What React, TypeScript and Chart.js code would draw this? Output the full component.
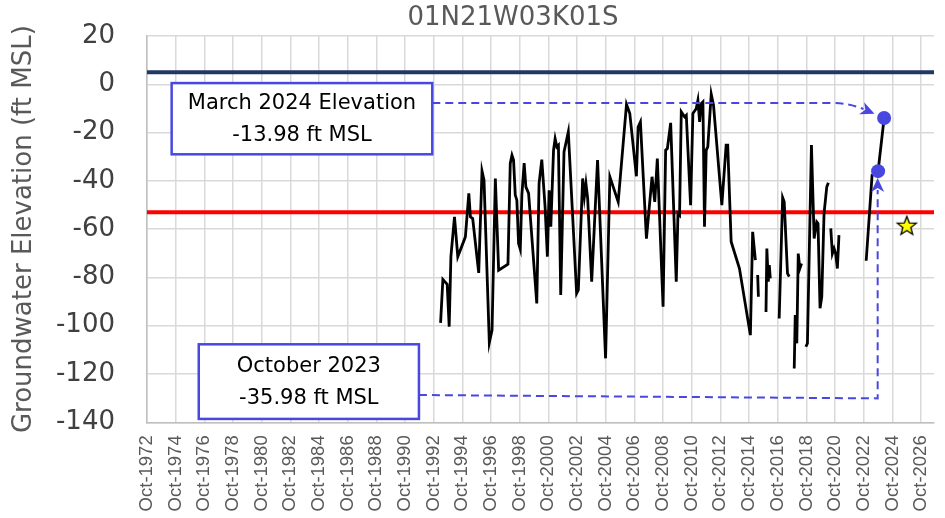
import React, { useEffect, useRef } from 'react';
import { Chart, registerables } from 'chart.js';

Chart.register(...registerables);

// ---------- text ----------
const TITLE = '01N21W03K01S';
const Y_TITLE = 'Groundwater Elevation (ft MSL)';
const X_TICK_LABELS = [
  'Oct-1972', 'Oct-1974', 'Oct-1976', 'Oct-1978', 'Oct-1980', 'Oct-1982', 'Oct-1984',
  'Oct-1986', 'Oct-1988', 'Oct-1990', 'Oct-1992', 'Oct-1994', 'Oct-1996', 'Oct-1998',
  'Oct-2000', 'Oct-2002', 'Oct-2004', 'Oct-2006', 'Oct-2008', 'Oct-2010', 'Oct-2012',
  'Oct-2014', 'Oct-2016', 'Oct-2018', 'Oct-2020', 'Oct-2022', 'Oct-2024', 'Oct-2026',
];
const NOTE_TEXT_MARCH = ['March 2024 Elevation', '-13.98 ft MSL'];
const NOTE_TEXT_OCT = ['October 2023', '-35.98 ft MSL'];

// ---------- axes ----------
const X_MIN = 1972.75;
const X_MAX = 2027.65;
const Y_MIN = -140;
const Y_MAX = 20;
const Y_STEP = 20;

// ---------- data (decimal years, ft MSL) ----------
const MEAS_DATES = [
  1993.23, 1993.39, 1993.69, 1993.83, 1993.95, 1994.20, 1994.43, 1994.96, 1995.20, 1995.31,
  1995.47, 1995.89, 1996.12, 1996.26, 1996.63, 1996.82, 1997.05, 1997.28, 1997.93, 1998.09,
  1998.21, 1998.32, 1998.44, 1998.55, 1998.67, 1998.79, 1998.90, 1999.06, 1999.18, 1999.37,
  1999.94, 2000.10, 2000.29, 2000.52, 2000.68, 2000.80, 2000.92, 2001.11, 2001.22, 2001.34,
  2001.45, 2001.61, 2001.84, 2002.14, 2002.72, 2002.84, 2003.14, 2003.26, 2003.37, 2003.49,
  2003.77, 2004.18, 2004.74, 2005.04, 2005.62, 2006.20, 2006.43, 2006.89, 2007.01, 2007.17,
  2007.59, 2007.98, 2008.17, 2008.35, 2008.75, 2008.93, 2009.05, 2009.28, 2009.67, 2009.79,
  2009.90, 2010.02, 2010.25, 2010.37, 2010.67, 2010.83, 2011.06, 2011.18, 2011.30, 2011.41,
  2011.53, 2011.64, 2011.76, 2011.87, 2012.11, 2012.27, 2012.85, 2013.15, 2013.26, 2013.50,
  2014.08, 2014.84, 2015.00, 2015.19, 2015.27, 2015.35, 2015.40, 2015.66, 2015.93, 2015.99,
  2016.09, 2016.16, 2016.23, 2016.54, 2016.85, 2017.09, 2017.20, 2017.43, 2017.55, 2017.72,
  2017.90, 2017.97, 2018.08, 2018.18, 2018.29, 2018.41, 2018.56, 2018.71, 2018.82, 2019.10,
  2019.29, 2019.47, 2019.56, 2019.70, 2019.82, 2019.98, 2020.17, 2020.28, 2020.36, 2020.45,
  2020.56, 2020.68, 2020.79, 2020.91, 2021.02, 2022.00, 2022.92, 2023.33, 2023.75, 2024.17,
];
const MEAS_ELEV = [
  -98.8, -80.8, -82.8, -100.4, -71.4, -54.9, -71.4, -63.2, -45.2, -54.9,
  -55.6, -78.1, -35.9, -39.7, -107.0, -101.8, -39.0, -77.0, -74.5, -32.8,
  -29.4, -31.4, -45.9, -48.0, -65.9, -68.3, -45.9, -32.6, -42.5, -45.2,
  -90.8, -41.1, -31.2, -50.8, -71.4, -43.9, -59.0, -27.3, -22.5, -25.9,
  -25.2, -87.3, -28.0, -19.7, -86.6, -85.2, -39.0, -46.6, -41.1, -47.3,
  -81.8, -31.4, -113.5, -38.3, -48.7, -8.3, -12.1, -38.1, -17.7, -15.6,
  -63.9, -38.3, -48.7, -30.8, -92.1, -27.3, -26.6, -16.0, -81.8, -53.5,
  -54.2, -11.4, -13.5, -12.8, -50.1, -12.1, -10.1, -6.6, -15.6, -8.0,
  -7.3, -59.0, -27.3, -25.9, -4.1, -8.7, -50.1, -25.2, -25.2, -65.2,
  -76.3, -103.9, -61.1, -72.8, null, -79.0, -88.0, null, -94.3, -68.0,
  -81.8, -74.9, -80.4, null, -97.0, -46.9, -48.7, -78.3, -79.7, null,
  -117.7, -95.6, -107.3, -70.1, -76.3, -74.2, null, -108.7, -107.3, -25.2,
  -63.9, -57.0, -57.7, -92.8, -88.0, -53.5, -42.5, -40.8, null, -59.7,
  -70.1, -68.0, -70.1, -76.3, -62.5, null, -73.1, -37.7, -35.98, -13.98,
];
const HIGHLIGHT_DATES = [2023.75, 2024.17];
const HIGHLIGHT_ELEV = [-35.98, -13.98];
const STAR_DATES = [2025.75];
const STAR_ELEV = [-58.6];
const REF_UPPER = 5;
const REF_LOWER = -53;

// ---------- styles ----------
const BLUE = '#4848E0';
const GRID = '#d9d9d9';
const AXIS = '#bfbfbf';
const GRAY_TEXT = '#595959';
const FONT = 'DejaVu Sans';

// callout geometry in data space
const NOTES = [
  { lines: NOTE_TEXT_MARCH, x0: 1974.47, x1: 1992.65, yTop: 0.5, yBottom: -29.0 },
  { lines: NOTE_TEXT_OCT, x0: 1976.36, x1: 1991.72, yTop: -107.7, yBottom: -138.6 },
];
const ARROW_MARCH = { start: [1992.65, -7.7], corner: [2020.3, -7.7], ctrl: [2021.7, -7.7], tip: [2023.5, -12.2] };
const ARROW_OCT = { start: [1991.72, -128.7], corner: [2023.72, -130.1], tip: [2023.72, -38.8] };

function makeStar(): HTMLCanvasElement {
  const c = document.createElement('canvas');
  c.width = 24;
  c.height = 24;
  const g = c.getContext('2d')!;
  const cx = 12, cy = 12.5, ro = 10, ri = 4.2;
  g.beginPath();
  for (let i = 0; i < 10; i++) {
    const r = i % 2 === 0 ? ro : ri;
    const a = -Math.PI / 2 + (i * Math.PI) / 5;
    const px = cx + r * Math.cos(a);
    const py = cy + r * Math.sin(a);
    if (i === 0) g.moveTo(px, py); else g.lineTo(px, py);
  }
  g.closePath();
  g.fillStyle = '#FFFF00';
  g.fill();
  g.lineWidth = 1.3;
  g.strokeStyle = '#000000';
  g.stroke();
  return c;
}

const titlePlugin = {
  id: 'customTitle',
  afterDraw(chart: any) {
    const { ctx } = chart;
    ctx.save();
    ctx.font = `26px "${FONT}"`;
    ctx.fillStyle = GRAY_TEXT;
    ctx.textAlign = 'center';
    ctx.textBaseline = 'middle';
    ctx.fillText(TITLE, 513, 18);
    ctx.restore();
  },
};

const notesPlugin = {
  id: 'notes',
  afterDatasetsDraw(chart: any) {
    const { ctx } = chart;
    const xs = chart.scales.x;
    const ys = chart.scales.y;
    const P = (p: number[]) => [xs.getPixelForValue(p[0]), ys.getPixelForValue(p[1])];
    ctx.save();

    const head = (tip: number[], from: number[]) => {
      const dx = tip[0] - from[0];
      const dy = tip[1] - from[1];
      const len = Math.hypot(dx, dy) || 1;
      const ux = dx / len, uy = dy / len;
      const L = 14, W = 6.5;
      const bx = tip[0] - ux * L, by = tip[1] - uy * L;
      const nx = bx + ux * 4, ny = by + uy * 4;
      ctx.setLineDash([]);
      ctx.beginPath();
      ctx.moveTo(tip[0], tip[1]);
      ctx.lineTo(bx - uy * W, by + ux * W);
      ctx.lineTo(nx, ny);
      ctx.lineTo(bx + uy * W, by - ux * W);
      ctx.closePath();
      ctx.fillStyle = BLUE;
      ctx.fill();
    };

    ctx.strokeStyle = BLUE;
    ctx.lineWidth = 2;
    // March arrow
    {
      const s = P(ARROW_MARCH.start), c = P(ARROW_MARCH.corner), k = P(ARROW_MARCH.ctrl), t = P(ARROW_MARCH.tip);
      const dx = t[0] - k[0], dy = t[1] - k[1];
      const len = Math.hypot(dx, dy);
      const b = [t[0] - (dx / len) * 12, t[1] - (dy / len) * 12];
      ctx.setLineDash([8, 5]);
      ctx.beginPath();
      ctx.moveTo(s[0], s[1]);
      ctx.lineTo(c[0], c[1]);
      ctx.quadraticCurveTo(k[0], k[1], b[0], b[1]);
      ctx.stroke();
      head(t, k);
    }
    // October arrow
    {
      const s = P(ARROW_OCT.start), c = P(ARROW_OCT.corner), t = P(ARROW_OCT.tip);
      ctx.setLineDash([8, 5]);
      ctx.beginPath();
      ctx.moveTo(s[0], s[1]);
      ctx.lineTo(c[0], c[1]);
      ctx.lineTo(t[0], t[1] + 12);
      ctx.stroke();
      head(t, c);
    }

    // boxes
    ctx.setLineDash([]);
    for (const n of NOTES) {
      const [l, tp] = P([n.x0, n.yTop]);
      const [r, bt] = P([n.x1, n.yBottom]);
      ctx.fillStyle = '#ffffff';
      ctx.fillRect(l, tp, r - l, bt - tp);
      ctx.lineWidth = 2.5;
      ctx.strokeStyle = BLUE;
      ctx.strokeRect(l, tp, r - l, bt - tp);
      ctx.fillStyle = '#000000';
      ctx.font = `21px "${FONT}"`;
      ctx.textAlign = 'center';
      ctx.textBaseline = 'middle';
      const cx = (l + r) / 2;
      const cy = (tp + bt) / 2;
      ctx.fillText(n.lines[0], cx, cy - 15);
      ctx.fillText(n.lines[1], cx, cy + 17);
    }
    ctx.restore();
  },
};

export default function App() {
  const ref = useRef<HTMLCanvasElement | null>(null);

  useEffect(() => {
    document.body.style.margin = '0';
    document.body.style.overflow = 'hidden';
    const canvas = ref.current!;
    const star = makeStar();
    const tickValues = X_TICK_LABELS.map((s) => parseInt(s.slice(4), 10) + 0.75);

    const measured = MEAS_DATES.map((d, i) => ({ x: d, y: MEAS_ELEV[i] }));
    const highlight = HIGHLIGHT_DATES.map((d, i) => ({ x: d, y: HIGHLIGHT_ELEV[i] }));
    const starPts = STAR_DATES.map((d, i) => ({ x: d, y: STAR_ELEV[i] }));

    const chart = new Chart(canvas, {
      type: 'line',
      data: {
        datasets: [
          {
            data: [{ x: X_MIN, y: REF_UPPER }, { x: X_MAX, y: REF_UPPER }],
            borderColor: '#1F3864', borderWidth: 4, pointRadius: 0, order: 5,
          },
          {
            data: [{ x: X_MIN, y: REF_LOWER }, { x: X_MAX, y: REF_LOWER }],
            borderColor: '#FF0000', borderWidth: 4, pointRadius: 0, order: 4,
          },
          {
            data: measured as any,
            borderColor: '#000000', borderWidth: 2.8, pointRadius: 0, spanGaps: false,
            tension: 0, order: 3,
          },
          {
            data: highlight as any,
            showLine: false, pointRadius: 7, pointBackgroundColor: BLUE, pointBorderColor: BLUE,
            pointBorderWidth: 0, order: 2,
          },
          {
            data: starPts as any,
            showLine: false, pointStyle: star as any, pointRadius: 10, order: 1,
          },
        ],
      },
      options: {
        responsive: false,
        animation: false,
        events: [],
        layout: { padding: { top: 36, left: 0, right: 8, bottom: 0 } },
        plugins: { legend: { display: false }, tooltip: { enabled: false }, title: { display: false } },
        scales: {
          x: {
            type: 'linear',
            min: X_MIN,
            max: X_MAX,
            afterBuildTicks: (scale: any) => {
              scale.ticks = tickValues.map((v) => ({ value: v }));
            },
            afterFit: (scale: any) => {
              scale.height = 95.7;
              scale.paddingLeft = 0;
              scale.paddingRight = 0;
            },
            ticks: {
              autoSkip: false,
              minRotation: 90,
              maxRotation: 90,
              padding: 13,
              color: GRAY_TEXT,
              font: { family: 'Liberation Sans', size: 18.5 },
              callback: (_v: any, i: number) => X_TICK_LABELS[i],
            },
            grid: { color: GRID, lineWidth: 1.5, drawTicks: false },
            border: { color: AXIS, width: 1.5 },
          },
          y: {
            type: 'linear',
            min: Y_MIN,
            max: Y_MAX,
            afterFit: (scale: any) => {
              scale.width = 147;
              scale.paddingTop = 0;
              scale.paddingBottom = 0;
            },
            ticks: {
              stepSize: Y_STEP,
              padding: 32,
              color: '#404040',
              font: { family: FONT, size: 26 },
            },
            grid: { color: GRID, lineWidth: 1.5, drawTicks: false },
            border: { color: AXIS, width: 1.5 },
            title: {
              display: true,
              text: Y_TITLE,
              color: GRAY_TEXT,
              font: { family: FONT, size: 26 },
              padding: { top: 9, bottom: 0 },
            },
          },
        },
      },
      plugins: [titlePlugin, notesPlugin],
    });

    return () => chart.destroy();
  }, []);

  return (
    <div style={{ width: 945, height: 518 }}>
      <canvas ref={ref} width={945} height={518} style={{ display: 'block', width: 945, height: 518 }} />
    </div>
  );
}
